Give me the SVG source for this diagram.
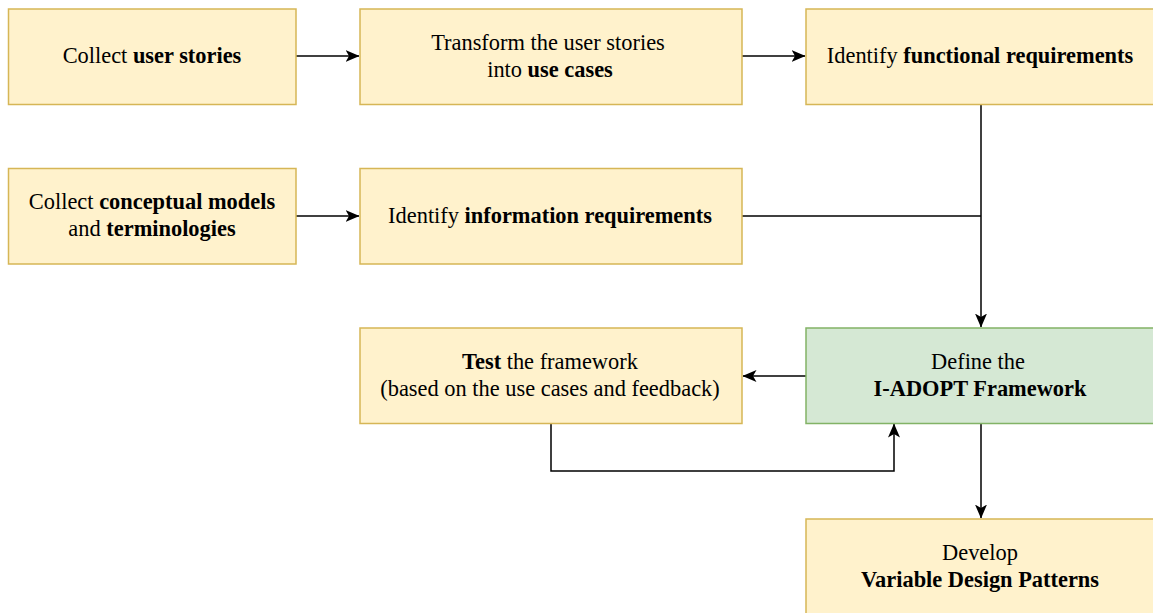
<svg xmlns="http://www.w3.org/2000/svg" width="1153" height="613" viewBox="0 0 1153 613">
<style>
.y{fill:#fff2cc;stroke:#d6b656;stroke-width:1.5}
.g{fill:#d5e8d4;stroke:#82b366;stroke-width:1.5}
text{font-family:"Liberation Serif","Times New Roman",serif;font-size:22.4px;fill:#000;text-anchor:middle}
.b{font-weight:bold}
.c{fill:none;stroke:#000;stroke-width:1.5}
</style>
<defs>
<marker id="a" viewBox="0 0 14 14" refX="13.5" refY="7" markerWidth="14" markerHeight="14" markerUnits="userSpaceOnUse" orient="auto">
<path d="M0,1 L14,7 L0,13 L3.5,7 Z" fill="#000"/>
</marker>
</defs>
<g id="connectors">
<path class="c" d="M296,56 H359" marker-end="url(#a)"/>
<path class="c" d="M742,56 H805" marker-end="url(#a)"/>
<path class="c" d="M296,216 H359" marker-end="url(#a)"/>
<path class="c" d="M981,104 V327" marker-end="url(#a)"/>
<path class="c" d="M742,216 H981"/>
<path class="c" d="M806,376 H743" marker-end="url(#a)"/>
<path class="c" d="M551,423 V471 H894 V424" marker-end="url(#a)"/>
<path class="c" d="M981,423 V518" marker-end="url(#a)"/>
</g>
<g id="n1"><rect class="y" x="8.5" y="9" width="287.5" height="95.5"/>
<text x="152" y="63">Collect <tspan class="b">user stories</tspan></text></g>
<g id="n2"><rect class="y" x="360" y="9" width="382" height="95.5"/>
<text x="548" y="50">Transform the user stories</text>
<text x="550" y="77">into <tspan class="b">use cases</tspan></text></g>
<g id="n3"><rect class="y" x="806" y="9" width="348" height="95.5"/>
<text x="980" y="63">Identify <tspan class="b">functional requirements</tspan></text></g>
<g id="n4"><rect class="y" x="8.5" y="168.5" width="287.5" height="95.5"/>
<text x="152" y="209">Collect <tspan class="b">conceptual models</tspan></text>
<text x="152" y="236">and <tspan class="b">terminologies</tspan></text></g>
<g id="n5"><rect class="y" x="360" y="168.5" width="382" height="95.5"/>
<text x="550" y="222.5">Identify <tspan class="b">information requirements</tspan></text></g>
<g id="n6"><rect class="y" x="360" y="328" width="382" height="95.5"/>
<text x="550" y="369"><tspan class="b">Test</tspan> the framework</text>
<text x="550" y="396">(based on the use cases and feedback)</text></g>
<g id="n7"><rect class="g" x="806" y="328" width="348" height="95.5"/>
<text x="978" y="369">Define the</text>
<text x="980" y="396" class="b">I-ADOPT Framework</text></g>
<g id="n8"><rect class="y" x="806" y="519" width="348" height="100"/>
<text x="980" y="560">Develop</text>
<text x="980" y="587" class="b">Variable Design Patterns</text></g>
</svg>
